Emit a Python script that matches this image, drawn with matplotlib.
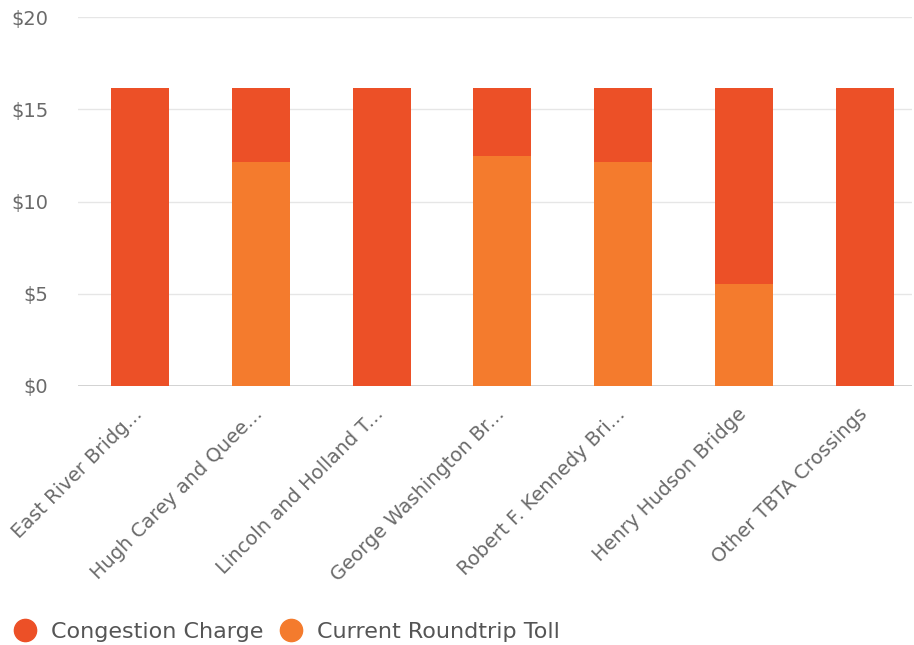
import matplotlib
matplotlib.use("Agg")
import matplotlib.pyplot as plt
from matplotlib.lines import Line2D
import matplotlib.transforms as mtransforms

categories = ["East River Bridg...", "Hugh Carey and Quee...", "Lincoln and Holland T...",
              "George Washington Br...", "Robert F. Kennedy Bri...", "Henry Hudson Bridge",
              "Other TBTA Crossings"]
current_toll = [0, 12.14, 0, 12.47, 12.14, 5.53, 0]
congestion_charge = [16.15, 4.01, 16.15, 3.68, 4.01, 10.62, 16.15]
y_ticks = [0, 5, 10, 15, 20]
y_tick_labels = ["$0", "$5", "$10", "$15", "$20"]

c_charge = "#EC5027"
c_toll = "#F47B2D"
text_col = "#6a6a6a"

plt.rcParams['font.family'] = ['DejaVu Sans']

W, H = 914, 645
fig = plt.figure(figsize=(W / 100, H / 100), dpi=100)
left, right, top, bottom = 78, 912, 17, 386
ax = fig.add_axes([left / W, 1 - bottom / H, (right - left) / W, (bottom - top) / H])

x = list(range(len(categories)))
ax.bar(x, current_toll, width=0.48, color=c_toll, linewidth=0, zorder=3)
ax.bar(x, congestion_charge, bottom=current_toll, width=0.48, color=c_charge,
       linewidth=0, zorder=3)

ax.set_xlim(-0.513, 6.389)
ax.set_ylim(0, 20)
ax.set_yticks(y_ticks)
ax.set_yticklabels(y_tick_labels, color=text_col, fontsize=14)
ax.grid(axis='y', color="#e6e6e6", linewidth=1, zorder=0)
ax.axhline(0, color="#cccccc", linewidth=1.2, zorder=2)
for s in ax.spines.values():
    s.set_visible(False)
ax.tick_params(axis='y', length=0, pad=21.5)
ax.tick_params(axis='x', length=0, pad=8)
ax.set_xticks(x)
ax.set_xticklabels(categories, rotation=45, ha='right', va='center', rotation_mode='anchor',
                   color=text_col, fontsize=14)
offset = mtransforms.ScaledTranslation(-1 / 100, -14 / 100, fig.dpi_scale_trans)
for lbl in ax.get_xticklabels():
    lbl.set_transform(lbl.get_transform() + offset)

handles = [Line2D([0], [0], marker='o', color='none', markerfacecolor=c_charge,
                  markeredgecolor=c_charge, markersize=16),
           Line2D([0], [0], marker='o', color='none', markerfacecolor=c_toll,
                  markeredgecolor=c_toll, markersize=16)]
leg = fig.legend(handles, ["Congestion Charge", "Current Roundtrip Toll"], loc='center left',
                 bbox_to_anchor=(1 / W, 1 - 632 / H), ncol=2, frameon=False, fontsize=16,
                 handletextpad=0.45, columnspacing=0.55, handlelength=1.4, borderaxespad=0)
for t in leg.get_texts():
    t.set_color("#555555")

fig.savefig("out.png", dpi=100)
